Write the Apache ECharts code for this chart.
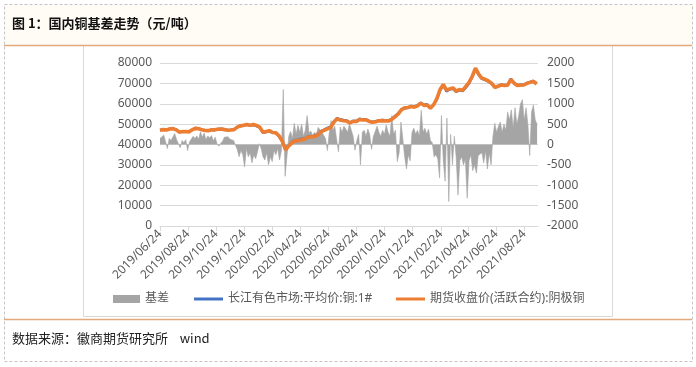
<!DOCTYPE html>
<html><head><meta charset="utf-8">
<script src="https://cdn.jsdelivr.net/npm/echarts@6/dist/echarts.min.js"></script>
<style>html,body{margin:0;padding:0;background:#fff}#c{width:696px;height:367px}</style>
</head><body><div id="c"></div>
<script>
// Calendar range of the x axis (one category per day)
const startDate = '2019-06-24';
const endDate = '2021-09-23';
// Weekly samples (every 7 days from start) of the two price series
const futuresValues = [47000,47300,47100,47600,47800,47200,46100,46300,46400,46200,
 47200,47900,47700,47200,46900,46800,47200,47200,47500,47600,
 47300,47000,47100,47300,48500,49200,49400,49800,49500,49800,
 49300,48500,46000,46400,46800,45900,45800,44200,41500,37400,
 39300,40800,41800,41900,42400,42700,43600,43800,44000,44600,
 46200,47000,47700,48300,50900,52600,52000,51700,51500,50600,
 51300,51300,52300,52000,52100,51300,50900,51200,51600,51700,
 51600,51500,52300,53600,55000,57000,58000,58200,58600,58300,
 59000,60300,59200,59400,57800,59500,62500,67000,69500,66700,
 67300,67800,66200,67000,66600,68500,70500,73500,77500,74500,
 72500,72000,71200,70100,68000,68600,69200,69000,69100,72000,
 70100,69000,69100,69200,70000,70500,71000,69700];
const spotValues = [47150,47420,47200,47700,47900,47350,46050,46400,46450,46350,
 47350,48100,47850,47300,46950,46800,47250,47050,47650,47700,
 47450,47150,47250,47400,48450,49000,49300,49650,49350,49550,
 49050,48300,45700,46100,46450,45750,45600,43950,41600,38100,
 39500,41200,42200,42300,42800,42900,43850,44100,44250,44900,
 46550,47350,48100,48700,51200,52900,52350,52000,51800,50800,
 51600,51500,52600,52300,52400,51550,51100,51450,51800,52000,
 51850,51800,52600,54000,55200,57300,57700,58000,58900,58600,
 59300,60500,59500,59700,57900,59600,62200,66500,69000,66100,
 67000,67300,65800,66600,66200,67900,70000,73000,77000,74100,
 72200,71700,70900,69800,68300,68800,69400,69200,69300,72300,
 70300,69200,69300,69400,70200,70700,71200,69900];
// Basis samples every 4 days from start
const basisValues = [150,120,230,80,-100,150,100,60,270,120,
 80,-80,100,40,120,-150,60,90,200,150,
 210,130,310,180,280,120,210,160,220,90,
 180,20,-40,30,80,180,150,190,130,170,
 100,60,-120,-300,-150,-250,-550,-100,-300,-200,
 -450,-250,-350,-180,20,-100,-300,-380,-200,-500,
 -300,-420,-150,-250,-100,-380,-150,1350,-780,-300,
 200,320,150,520,250,470,300,500,200,350,
 710,280,330,200,300,250,420,380,300,280,
 150,-150,280,590,350,450,430,-180,430,300,
 450,380,300,510,350,200,-140,100,250,-500,
 300,350,200,380,250,-120,200,320,450,300,
 200,350,250,480,300,200,710,250,350,-420,
 -200,550,150,-300,-600,-250,-400,300,400,250,
 350,200,840,300,400,250,380,100,50,-300,
 -250,-350,-820,710,-400,-900,650,-1400,250,-500,
 200,-300,-1240,-400,-300,-500,-350,-1320,-400,-250,
 -640,-500,-700,-270,-300,-200,-450,-150,-600,-200,
 -500,200,520,300,450,550,300,500,350,800,
 600,850,400,900,500,700,1000,1100,600,900,
 500,-270,800,970,600,500];
const leftTicks = {min: 0, max: 80000, interval: 10000};
const rightTicks = {min: -2000, max: 2000, interval: 500};
const names = ['基差', '长江有色市场:平均价:铜:1#', '期货收盘价(活跃合约):阴极铜'];
const titleText = '图 1：国内铜基差走势（元/吨）';
const sourceText = '数据来源：徽商期货研究所    wind';

function fmt(d){const m=d.getUTCMonth()+1, dd=d.getUTCDate();return d.getUTCFullYear()+'/'+(m<10?'0':'')+m+'/'+(dd<10?'0':'')+dd;}
const days=[];
for(let t=Date.parse(startDate+'T00:00:00Z'); t<=Date.parse(endDate+'T00:00:00Z'); t+=86400000){days.push(fmt(new Date(t)));}
function spread(vals, step){const a=new Array(days.length).fill(null);vals.forEach((v,i)=>{if(i*step<days.length)a[i*step]=v;});return a;}
const futuresData=spread(futuresValues,7), spotData=spread(spotValues,7), basisData=spread(basisValues,4);
function isLabelDay(idx,val){const p=val.split('/');return p[2]==='24' && (parseInt(p[1],10)%2===0);}

const FONT='"Noto Sans","Noto Sans CJK SC",sans-serif';
const LBL='#595959', GRID='#d9d9d9';
const chart=echarts.init(document.getElementById('c'),null,{renderer:'canvas'});
const legendText={color:LBL,fontSize:12,fontFamily:FONT};
chart.setOption({
  animation:false,
  backgroundColor:'#fff',
  textStyle:{fontFamily:FONT},
  graphic:[
    {type:'rect',shape:{x:5,y:5,width:687,height:40},style:{fill:'#fffcf5'},z:-10,silent:true},
    {type:'rect',shape:{x:4.5,y:4.5,width:688,height:357},style:{fill:null,stroke:'#c4c4c4',lineWidth:1,lineDash:[3,2]},z:-9,silent:true},
    {type:'rect',shape:{x:83.5,y:45.5,width:529,height:271},style:{fill:null,stroke:'#d9d9d9',lineWidth:1},z:-8,silent:true},
    {type:'line',shape:{x1:4,y1:45.5,x2:692,y2:45.5},style:{stroke:'#e3a97c',lineWidth:1.5},z:-7,silent:true},
    {type:'line',shape:{x1:4,y1:319.5,x2:692,y2:319.5},style:{stroke:'#e3a97c',lineWidth:1.5},z:-7,silent:true},
    {type:'text',left:12,top:17,style:{text:titleText,font:'bold 13px "Noto Sans CJK SC",sans-serif',fill:'#111'},silent:true},
    {type:'text',left:12,top:332,style:{text:sourceText,font:'13px "Noto Sans CJK SC",sans-serif',fill:'#222'},silent:true}
  ],
  legend:[
    {data:[{name:names[0],icon:'path://M0,0H27V8H0Z'}],left:113,top:293,padding:0,itemWidth:27,itemHeight:8,textStyle:legendText},
    {data:[{name:names[1],icon:'path://M0,0H29V3H0Z'}],left:194,top:293,padding:0,itemWidth:29,itemHeight:8,textStyle:legendText},
    {data:[{name:names[2],icon:'path://M0,0H29V3H0Z'}],left:396,top:293,padding:0,itemWidth:29,itemHeight:8,textStyle:legendText}
  ],
  grid:{left:160,right:158,top:63,bottom:141},
  xAxis:{type:'category',data:days,boundaryGap:false,
    axisLine:{onZero:false,lineStyle:{color:GRID}},
    axisTick:{show:true,interval:isLabelDay,length:5,lineStyle:{color:GRID}},
    axisLabel:{interval:isLabelDay,rotate:45,color:LBL,fontSize:12,margin:6,fontFamily:FONT},
    splitLine:{show:false}},
  yAxis:[
    {type:'value',min:leftTicks.min,max:leftTicks.max,interval:leftTicks.interval,position:'left',
     axisLine:{show:false},axisTick:{show:false},axisLabel:{color:LBL,fontSize:12,margin:8,fontFamily:FONT,formatter:v=>String(v)},
     splitLine:{lineStyle:{color:GRID}}},
    {type:'value',min:rightTicks.min,max:rightTicks.max,interval:rightTicks.interval,position:'right',
     axisLine:{show:false},axisTick:{show:false},axisLabel:{color:LBL,fontSize:12,margin:9,fontFamily:FONT,formatter:v=>String(v)},
     splitLine:{show:false}}
  ],
  series:[
    {name:names[0],type:'line',yAxisIndex:1,data:basisData,connectNulls:true,showSymbol:false,symbol:'none',
     itemStyle:{color:'#a5a5a5'},lineStyle:{color:'#a5a5a5',width:0.6},areaStyle:{color:'#a5a5a5',opacity:1},z:1},
    {name:names[1],type:'line',yAxisIndex:0,data:spotData,connectNulls:true,showSymbol:false,symbol:'none',
     itemStyle:{color:'#4472c4'},lineStyle:{color:'#4472c4',width:2.5},z:2},
    {name:names[2],type:'line',yAxisIndex:0,data:futuresData,connectNulls:true,showSymbol:false,symbol:'none',
     itemStyle:{color:'#ed7d31'},lineStyle:{color:'#ed7d31',width:3.6},z:3}
  ]
});
</script></body></html>
